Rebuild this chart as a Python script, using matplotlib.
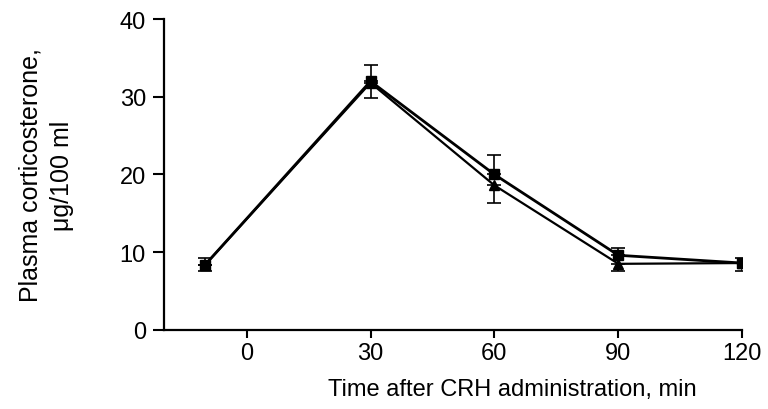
import numpy as np
import matplotlib.pyplot as plt

plt.rcParams['font.family'] = ['Liberation Sans', 'DejaVu Sans']

# Tiempo después de la administración de CRH (min)
tiempo = [-10, 30, 60, 90, 120]

# Serie con cuadrados
cuadrados = [8.4, 32.0, 20.0, 9.6, 8.6]
err_cuadrados = [0.8, 2.1, 2.5, 0.9, 0.6]

# Serie con triángulos
triangulos = [8.4, 31.8, 18.6, 8.5, 8.6]
err_triangulos = [0.8, 2.0, 2.3, 0.9, 1.0]

yticks = [0, 10, 20, 30, 40]
xticks = [0, 30, 60, 90, 120]

fig = plt.figure(figsize=(7.68, 4.10), dpi=100)
ax = fig.add_axes([0.2135, 0.193, 0.753, 0.758])

ax.errorbar(tiempo, cuadrados, yerr=[[0, 0, 0, 0, 0], err_cuadrados], color='black',
            marker='s', markersize=7, linewidth=2, capsize=5, elinewidth=1.2, capthick=1.2)
ax.errorbar(tiempo, triangulos, yerr=[err_triangulos, [0, 0, 0, 0, 0]], color='black',
            marker='^', markersize=7, linewidth=1.6, capsize=5, elinewidth=1.2, capthick=1.2)

ax.set_xlim(-20, 120)
ax.set_ylim(0, 40)
ax.set_xticks(xticks)
ax.set_yticks(yticks)

ax.spines['top'].set_visible(False)
ax.spines['right'].set_visible(False)
ax.spines['left'].set_linewidth(1.6)
ax.spines['bottom'].set_linewidth(1.6)
ax.tick_params(axis='both', direction='out', width=1.5, labelsize=17)
ax.tick_params(axis='y', length=8, pad=5)
ax.tick_params(axis='x', length=6, pad=3)

ax.set_xlabel("Time after CRH administration, min", fontsize=17)
ax.xaxis.set_label_coords(0.602, -0.155)
ax.set_ylabel("Plasma corticosterone,\nμg/100 ml", fontsize=18, labelpad=33,
              linespacing=1.4)

fig.savefig("out.png", dpi=100)
